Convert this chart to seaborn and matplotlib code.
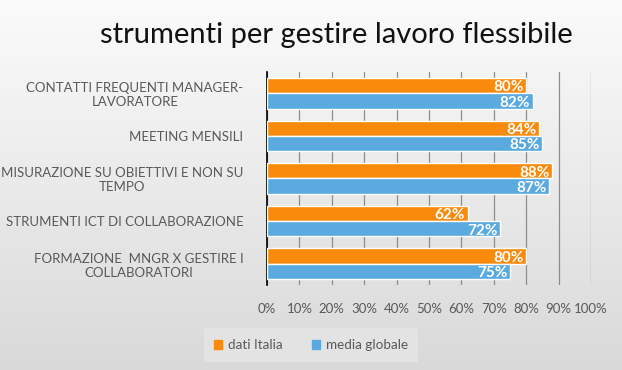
import matplotlib.pyplot as plt
import matplotlib.patches as mpatches
import numpy as np
import pandas as pd
import seaborn as sns

categories = [
    "CONTATTI FREQUENTI MANAGER-\nLAVORATORE",
    "MEETING MENSILI",
    "MISURAZIONE SU OBIETTIVI E NON SU\nTEMPO",
    "STRUMENTI ICT DI COLLABORAZIONE",
    "FORMAZIONE  MNGR X GESTIRE I\nCOLLABORATORI",
]
series = ["dati Italia", "media globale"]
dati_italia = [80, 84, 88, 62, 80]
media_globale = [82, 85, 87, 72, 75]
ticks = [0, 10, 20, 30, 40, 50, 60, 70, 80, 90, 100]

colors = ["#F98A0B", "#5AAAE0"]

df = pd.DataFrame({
    "cat": categories * 2,
    "serie": [series[0]] * 5 + [series[1]] * 5,
    "val": dati_italia + media_globale,
})

sns.set_style("white")
plt.rcParams["font.family"] = ["Lato", "DejaVu Sans"]

fig = plt.figure(figsize=(6.22, 3.70), dpi=100)

# sfondo sfumato
bg = fig.add_axes([0, 0, 1, 1], zorder=-10)
grad = np.linspace(0, 1, 256).reshape(-1, 1)
bg.imshow(grad, aspect="auto", cmap=sns.blend_palette(["#fbfbfb", "#d9d9d9"], as_cmap=True),
          extent=[0, 1, 0, 1], origin="upper")
bg.axis("off")

ax = fig.add_axes([267 / 622, 1 - 285 / 370, (591 - 267) / 622, (285 - 72) / 370])
ax.patch.set_alpha(0)
sns.barplot(data=df, x="val", y="cat", hue="serie", orient="h", palette=colors,
            width=0.72, ax=ax, legend=False, saturation=1, zorder=3)

for cont in ax.containers:
    for bar in cont:
        w = bar.get_width()
        y = bar.get_y() + bar.get_height() * 0.62
        ax.text(w - 0.8, y, f"{w:.0f}%", ha="right", va="center", color="white",
                fontsize=11, fontweight="bold", zorder=5)

ax.set_xlim(0, 100)
ax.set_xticks(ticks)
ax.set_xticklabels([f"{t}%" for t in ticks], color="#595959", fontsize=9.5)
ax.xaxis.grid(True, color="#8c8c8c", linewidth=0.9, zorder=0)
ax.tick_params(axis="x", length=0, pad=13)
ax.tick_params(axis="y", length=0, pad=17)
for lbl in ax.get_yticklabels():
    lbl.set_multialignment("center")
    lbl.set_color("#595959")
    lbl.set_fontsize(9.5)
ax.set_xlabel("")
ax.set_ylabel("")
for s in ["top", "right", "bottom"]:
    ax.spines[s].set_visible(False)
ax.spines["left"].set_color("black")
ax.spines["left"].set_linewidth(1.2)

fig.text(336 / 622, 1 - 35 / 370, "strumenti per gestire lavoro flessibile", ha="center",
         va="center", fontsize=21, color="#111111")

handles = [mpatches.Patch(color=c, label=s) for c, s in zip(colors, series)]
leg = fig.legend(handles=handles, loc="center", bbox_to_anchor=(311 / 622, 1 - 345 / 370),
                 ncol=2, frameon=True, fontsize=9.7, handlelength=0.6, handleheight=0.6,
                 handletextpad=0.4, columnspacing=2.2, borderpad=0.8, fancybox=False)
leg.get_frame().set_facecolor("#e6e6e6")
leg.get_frame().set_edgecolor("none")
for t in leg.get_texts():
    t.set_color("#595959")

fig.savefig("out.png", dpi=100)
